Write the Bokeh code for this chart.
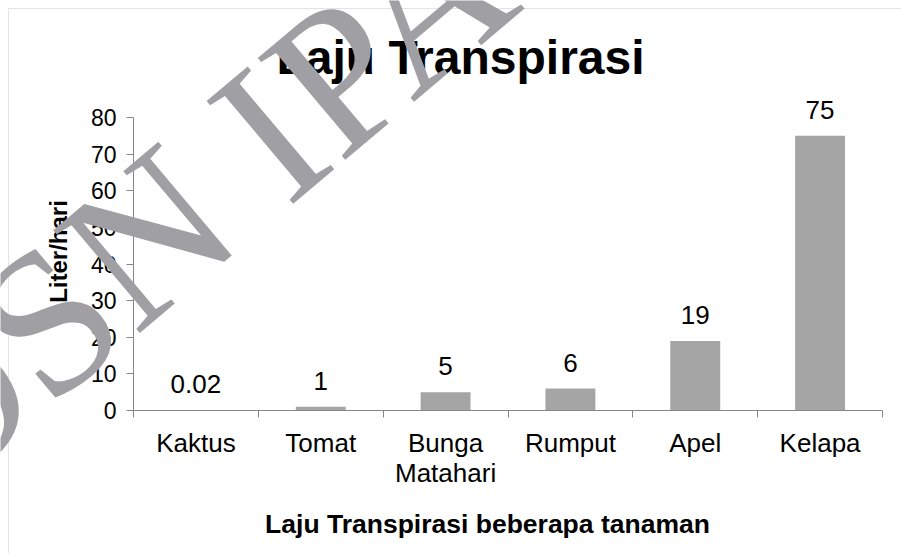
from bokeh.plotting import figure
from bokeh.models import FixedTicker, Label, Range1d, ColumnDataSource, BoxAnnotation
from bokeh.embed import file_html
from bokeh.resources import INLINE
from bokeh.core.properties import value

categories = ["Kaktus", "Tomat", "Bunga\nMatahari", "Rumput", "Apel", "Kelapa"]
values = [0.02, 1, 5, 6, 19, 75]
value_labels = ["0.02", "1", "5", "6", "19", "75"]
y_ticks = [0, 10, 20, 30, 40, 50, 60, 70, 80]
y_max = 80

n = len(categories)
xs = [i + 0.5 for i in range(n)]
src = ColumnDataSource(dict(x=xs, top=values, lab=value_labels))

FONT = "Liberation Sans"
W, H = 901, 553
# layout (pixels inside the canvas): plot area left/right/top/bottom
PL, PR, PT, PB = 133, 882, 117, 410
xpx = (PR - PL) / n
ypx = (PB - PT) / y_max
x_range = Range1d(-PL / xpx, n + (W - PR) / xpx)
y_range = Range1d(-(H - PB) / ypx, PB / ypx)

p = figure(width=W, height=H, output_backend="svg", toolbar_location=None,
           x_range=x_range, y_range=y_range, min_border=0)
p.outline_line_color = None
p.xgrid.visible = False
p.ygrid.visible = False

# chart-area border (top and left visible)
border = BoxAnnotation(left=x_range.start + 8 / xpx, top=y_range.end - 8 / ypx,
                       right=x_range.end + 1, bottom=y_range.start - 10,
                       fill_alpha=0, line_color="#a6a6a6", line_width=1, level="underlay")
p.add_layout(border)

p.vbar(x="x", top="top", width=0.4, bottom=0, source=src, fill_color="#a5a5a5", line_color=None)
p.text(x="x", y="top", text="lab", source=src, y_offset=-26, text_align="center",
       text_baseline="middle", text_font=value(FONT), text_font_size="26px", text_color="#000000")

# axes
ya = p.yaxis[0]
ya.fixed_location = 0
ya.bounds = (0, y_max)
ya.ticker = FixedTicker(ticks=y_ticks)
ya.axis_line_color = "#868686"
ya.major_tick_line_color = "#868686"
ya.major_tick_out = 7
ya.major_tick_in = 0
ya.minor_tick_line_color = None
ya.major_label_text_font = FONT
ya.major_label_text_font_size = "23px"
ya.major_label_text_color = "#000000"
ya.major_label_standoff = 10

xa = p.xaxis[0]
xa.fixed_location = 0
xa.bounds = (0, n)
xa.ticker = FixedTicker(ticks=xs, minor_ticks=list(range(n + 1)))
xa.major_label_overrides = {x: c for x, c in zip(xs, categories)}
xa.axis_line_color = "#868686"
xa.major_tick_line_color = None
xa.minor_tick_line_color = "#868686"
xa.minor_tick_out = 7
xa.minor_tick_in = 0
xa.major_label_text_font = FONT
xa.major_label_text_font_size = "26px"
xa.major_label_text_color = "#000000"
xa.major_label_text_line_height = 1.0
xa.major_label_standoff = 10

title = Label(x=460, y=496, x_units="screen", y_units="screen", text="Laju Transpirasi",
              text_align="center", text_baseline="middle", text_font=FONT,
              text_font_style="bold", text_font_size="48px", text_color="#000000")
xlab = Label(x=487, y=30, x_units="screen", y_units="screen", text="Laju Transpirasi beberapa tanaman",
             text_align="center", text_baseline="middle", text_font=FONT,
             text_font_style="bold", text_font_size="26.5px", text_color="#000000")
ylab = Label(x=58, y=302, x_units="screen", y_units="screen", text="Liter/hari", angle=1.5708,
             text_align="center", text_baseline="middle", text_font=FONT,
             text_font_style="bold", text_font_size="24px", text_color="#000000")
for a in (title, xlab, ylab):
    p.add_layout(a)

wm = Label(x=185, y=350, x_units="screen", y_units="screen", text="OSN IPA",
           angle=0.70, text_align="center", text_baseline="middle",
           text_font="Liberation Serif", text_font_size="205px", text_color="#a0a0a4")
p.add_layout(wm)

open("out.html", "w").write(file_html(p, INLINE))
